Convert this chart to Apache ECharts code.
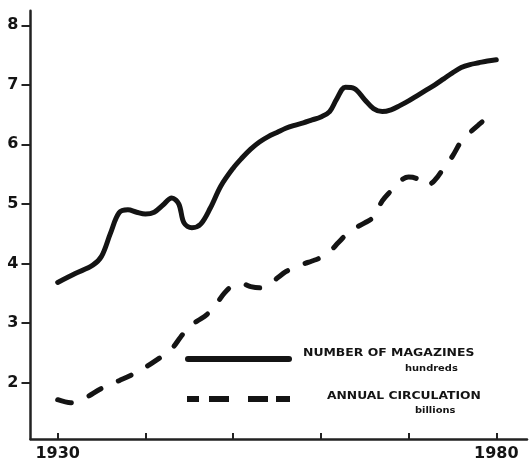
<!DOCTYPE html>
<html>
<head>
<meta charset="utf-8">
<script src="https://cdn.jsdelivr.net/npm/echarts@6/dist/echarts.min.js"></script>
<style>
  html, body { margin: 0; padding: 0; background: #fff; }
  #chart { width: 529px; height: 462px; }
</style>
</head>
<body>
<div id="chart"></div>
<script>
// number of magazines (hundreds)
var magYears = [1930, 1932, 1934, 1935, 1936, 1937, 1938, 1939, 1940, 1941, 1942, 1943, 1943.8, 1944.4, 1945.3, 1946.3, 1947.4, 1948.6, 1950, 1951, 1952, 1953, 1954, 1955, 1956, 1957, 1958, 1959, 1960, 1961, 1961.8, 1962.8, 1963.8, 1965, 1966, 1967, 1968, 1969, 1970, 1971, 1972, 1973, 1974, 1975, 1976, 1977, 1978, 1979, 1980];
var magValues = [3.68, 3.83, 3.97, 4.12, 4.5, 4.85, 4.9, 4.86, 4.83, 4.86, 4.98, 5.1, 5.0, 4.68, 4.6, 4.66, 4.93, 5.3, 5.6, 5.77, 5.92, 6.04, 6.13, 6.2, 6.27, 6.32, 6.36, 6.41, 6.46, 6.55, 6.76, 6.96, 6.94, 6.75, 6.6, 6.55, 6.58, 6.65, 6.73, 6.82, 6.91, 7.0, 7.1, 7.2, 7.29, 7.34, 7.37, 7.4, 7.42];

// annual circulation (billions)
var circYears = [1930, 1931.5, 1933, 1935, 1937, 1939, 1941, 1943, 1944, 1945, 1946, 1947, 1948, 1949, 1950, 1951, 1952, 1953, 1954, 1955, 1956, 1957, 1958, 1959, 1960, 1961, 1962, 1963, 1964, 1965, 1966, 1967, 1968, 1969, 1970, 1971, 1972, 1973, 1974, 1975, 1976, 1977, 1978, 1979, 1980];
var circValues = [1.71, 1.66, 1.73, 1.9, 2.03, 2.17, 2.35, 2.57, 2.76, 2.94, 3.04, 3.14, 3.3, 3.5, 3.63, 3.66, 3.61, 3.59, 3.64, 3.75, 3.86, 3.93, 3.99, 4.04, 4.1, 4.2, 4.35, 4.5, 4.6, 4.68, 4.78, 5.05, 5.22, 5.38, 5.45, 5.42, 5.3, 5.4, 5.6, 5.8, 6.05, 6.2, 6.33, 6.45, 6.53];

var xTicks = [1930, 1940, 1950, 1960, 1970, 1980];
var xLabels = [1930, 1980];
var yTicks = [2, 3, 4, 5, 6, 7, 8];

var legendNames = ['NUMBER OF MAGAZINES', 'ANNUAL CIRCULATION'];
var legendUnits = ['hundreds', 'billions'];

function pairs(xs, ys) {
  return xs.map(function (x, i) { return [x, ys[i]]; });
}

var ink = '#141414';
var chart = echarts.init(document.getElementById('chart'), null, { renderer: 'canvas' });

chart.setOption({
  backgroundColor: '#ffffff',
  animation: false,
  grid: { left: 30.5, right: 2, top: 10.7, bottom: 22.5 },
  xAxis: {
    type: 'value',
    min: 1926.9,
    max: 1983.5,
    axisLine: { show: true, onZero: false, lineStyle: { color: '#222', width: 2.5 } },
    axisTick: { show: true, inside: true, length: 6, customValues: xTicks, lineStyle: { color: '#222', width: 2 } },
    axisLabel: {
      customValues: xLabels,
      formatter: function (v) { return String(v); },
      margin: 7,
      color: ink,
      fontFamily: 'DejaVu Sans',
      fontWeight: 'bold',
      fontSize: 16
    },
    splitLine: { show: false }
  },
  yAxis: {
    type: 'value',
    min: 1.05,
    max: 8.245,
    axisLine: { show: true, lineStyle: { color: '#222', width: 2.5 } },
    axisTick: { show: true, length: 9, customValues: yTicks, lineStyle: { color: '#222', width: 2 } },
    axisLabel: {
      customValues: yTicks,
      margin: 12,
      color: ink,
      fontFamily: 'DejaVu Sans',
      fontWeight: 'bold',
      fontSize: 16
    },
    splitLine: { show: false }
  },
  series: [
    {
      name: legendNames[0],
      type: 'line',
      smooth: 0.35,
      symbol: 'none',
      lineStyle: { color: ink, width: 5, cap: 'round', join: 'round' },
      data: pairs(magYears, magValues)
    },
    {
      name: legendNames[1],
      type: 'line',
      smooth: 0.35,
      symbol: 'none',
      lineStyle: { color: ink, width: 5, type: [14, 19], cap: 'round', join: 'round' },
      data: pairs(circYears, circValues)
    }
  ],
  graphic: [
    // legend: solid line
    { type: 'line', shape: { x1: 188, y1: 359, x2: 289, y2: 359 },
      style: { stroke: ink, lineWidth: 6, lineCap: 'round' } },
    { type: 'text', x: 303, y: 353, scaleX: 1.13,
      style: { text: legendNames[0], fill: ink, font: 'bold 11px "DejaVu Sans"', textVerticalAlign: 'middle' } },
    { type: 'text', x: 405, y: 369, scaleX: 1.1,
      style: { text: legendUnits[0], fill: ink, font: 'bold 9px "DejaVu Sans"', textVerticalAlign: 'middle' } },
    // legend: dashed line
    { type: 'line', shape: { x1: 187, y1: 399, x2: 290, y2: 399 },
      style: { stroke: ink, lineWidth: 6, lineCap: 'butt', lineDash: [12, 10, 20, 19, 20, 8, 14, 20] } },
    { type: 'text', x: 327, y: 396, scaleX: 1.12,
      style: { text: legendNames[1], fill: ink, font: 'bold 11px "DejaVu Sans"', textVerticalAlign: 'middle' } },
    { type: 'text', x: 415, y: 411, scaleX: 1.1,
      style: { text: legendUnits[1], fill: ink, font: 'bold 9px "DejaVu Sans"', textVerticalAlign: 'middle' } }
  ]
});
</script>
</body>
</html>
